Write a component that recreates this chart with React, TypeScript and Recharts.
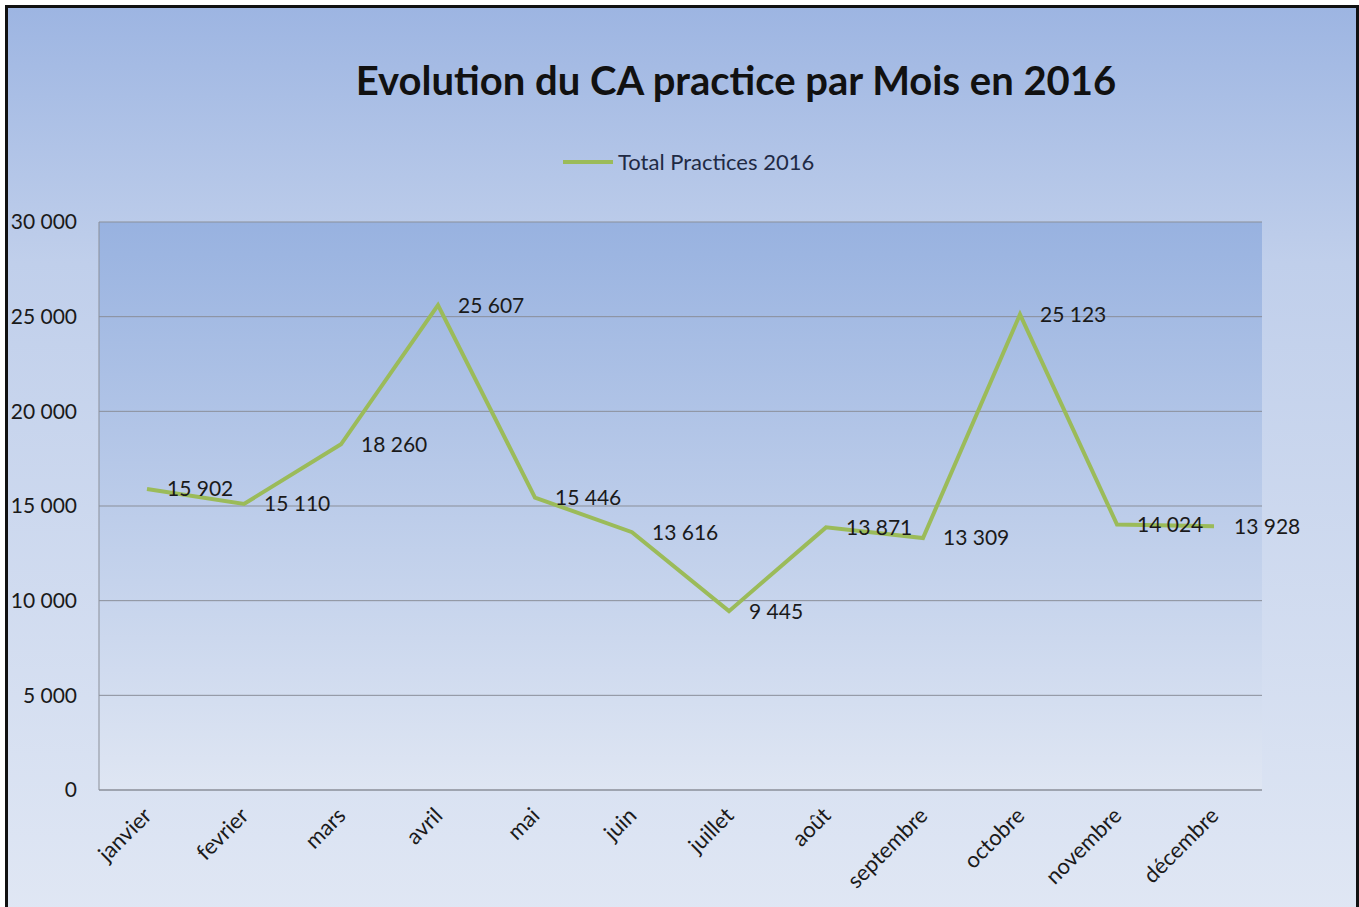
import React from 'react';
import {
  LineChart,
  Line,
  XAxis,
  YAxis,
  CartesianGrid,
  LabelList
} from 'recharts';

// Données
const months = [
  'janvier', 'fevrier', 'mars', 'avril', 'mai', 'juin',
  'juillet', 'août', 'septembre', 'octobre', 'novembre', 'décembre'
];
const practices2016 = [15902, 15110, 18260, 25607, 15446, 13616, 9445, 13871, 13309, 25123, 14024, 13928];
const yTicks = [0, 5000, 10000, 15000, 20000, 25000, 30000];

const data = months.map((m, i) => ({ month: m, total: practices2016[i] }));

const FONT = 'Lato, "Open Sans", sans-serif';
const GREEN = '#9bbb59';

const fmt = (v: number) => String(v).replace(/\B(?=(\d{3})+(?!\d))/g, ' ');

const MonthTick = ({ x, y, payload }: any) => (
  <text
    x={x}
    y={y}
    transform={`rotate(-45, ${x}, ${y})`}
    textAnchor="end"
    dominantBaseline="central"
    fontSize={22}
    fontFamily={FONT}
    fill="#1a1a1a"
  >
    {payload.value}
  </text>
);

export default function App() {
  return (
    <div
      style={{
        position: 'absolute',
        left: 0,
        top: 0,
        width: 1359,
        height: 907,
        background: '#ffffff',
        overflow: 'hidden'
      }}
    >
      <svg width={0} height={0} style={{ position: 'absolute' }}>
        <defs>
          <linearGradient id="plotGrad" x1="0" y1="0" x2="0" y2="1">
            <stop offset="0%" stopColor="#98b2e0" />
            <stop offset="100%" stopColor="#dfe6f3" />
          </linearGradient>
        </defs>
      </svg>
      <div
        style={{
          position: 'absolute',
          left: 5,
          top: 5,
          width: 1348,
          height: 910,
          borderLeft: '3px solid #111',
          borderTop: '3px solid #111',
          borderRight: '3px solid #111',
          background: 'linear-gradient(to bottom, #9db5e2 0%, #c0cfeb 28%, #e0e7f4 100%)'
        }}
      />
      <div
        style={{
          position: 'absolute',
          left: 0,
          top: 56,
          width: 1472,
          textAlign: 'center',
          fontFamily: FONT,
          fontWeight: 700,
          fontSize: 40,
          lineHeight: '48px',
          color: '#111'
        }}
      >
        Evolution du CA practice par Mois en 2016
      </div>
      <div
        style={{
          position: 'absolute',
          left: 563,
          top: 148,
          display: 'flex',
          alignItems: 'center',
          fontFamily: FONT
        }}
      >
        <div style={{ width: 50, height: 4, background: GREEN, marginRight: 5 }} />
        <span style={{ fontSize: 22, lineHeight: '28px', color: '#1f2a44' }}>Total Practices 2016</span>
      </div>
      <div style={{ position: 'absolute', left: 0, top: 0 }}>
        <LineChart
          width={1359}
          height={907}
          data={data}
          margin={{ top: 222, right: 97, left: 0, bottom: 87 }}
        >
          <CartesianGrid
            vertical={false}
            stroke="#8a8f99"
            fill="url(#plotGrad)"
            fillOpacity={1}
          />
          <XAxis
            dataKey="month"
            interval={0}
            height={30}
            padding={{ left: 48, right: 48 }}
            tickLine={false}
            tickSize={0}
            tickMargin={21}
            stroke="#8a8f99"
            tick={<MonthTick />}
          />
          <YAxis
            width={99}
            domain={[0, 30000]}
            ticks={yTicks}
            interval={0}
            tickLine={false}
            tickSize={0}
            tickMargin={22}
            stroke="#8a8f99"
            tickFormatter={fmt}
            tick={{ fontSize: 21, fontFamily: FONT, fill: '#1a1a1a' }}
          />
          <Line
            type="linear"
            dataKey="total"
            name="Total Practices 2016"
            stroke={GREEN}
            strokeWidth={4}
            dot={false}
            isAnimationActive={false}
          >
            <LabelList
              dataKey="total"
              position="right"
              offset={20}
              formatter={(v: any) => fmt(v)}
              style={{ fontSize: 21, fontFamily: FONT, fill: '#1a1a1a' }}
            />
          </Line>
        </LineChart>
      </div>
    </div>
  );
}
